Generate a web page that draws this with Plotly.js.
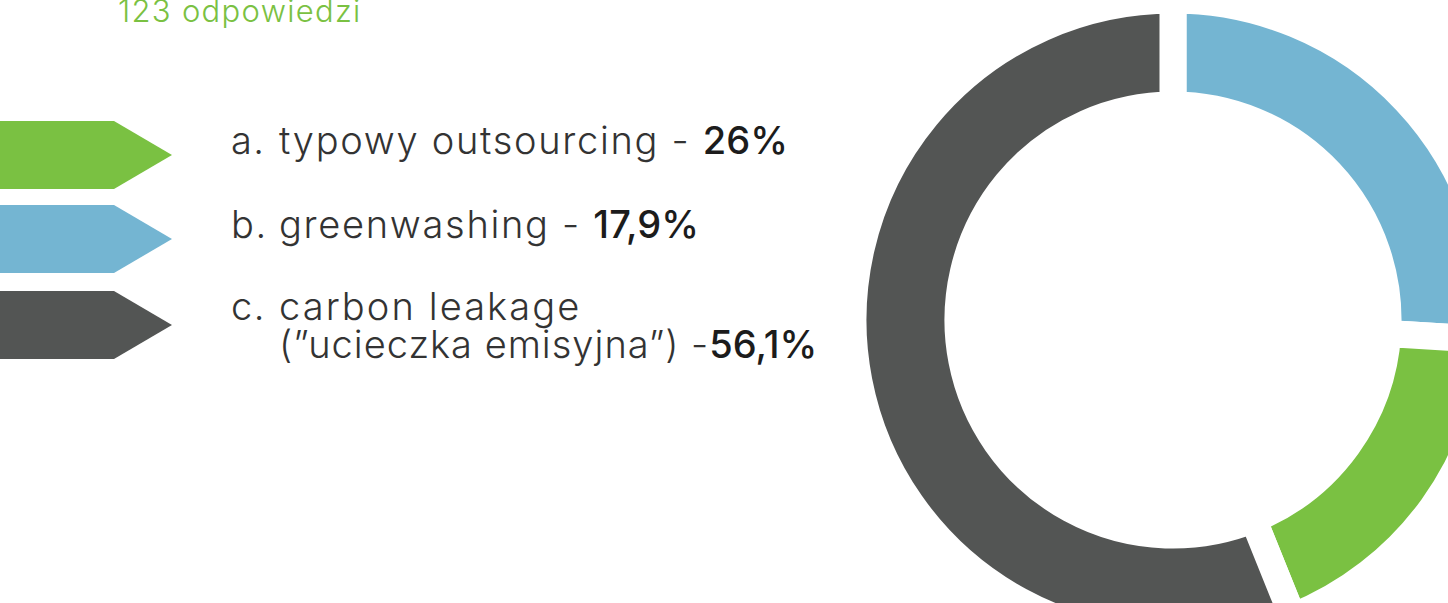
<!DOCTYPE html>
<html>
<head>
<meta charset="utf-8">
<script src="https://cdn.plot.ly/plotly-3.0.1.min.js"></script>
<style>
  html, body { margin: 0; padding: 0; overflow: hidden; background: #ffffff; width: 1448px; height: 603px; }
  #chart { position: absolute; left: 0; top: 0; width: 1500px; height: 640px; }
</style>
</head>
<body>
<div id="chart"></div>
<script>
// ---- data ----
const subtitle = '123 odpowiedzi';
const letters = ['a.', 'b.', 'c.'];
const categories = ['typowy outsourcing', 'greenwashing', 'carbon leakage'];
const categoryExtra = ['', '', '(”ucieczka emisyjna”)'];
const values = [26, 17.9, 56.1];
const valueLabels = ['26%', '17,9%', '56,1%'];
// colours as they appear in the picture
const sliceColors = ['#74B5D2', '#7AC142', '#535554'];
const legendColors = ['#7AC142', '#74B5D2', '#535554'];

// ---- layout helpers ----
const W = 1500, H = 640;
const px = x => x / W;
const py = y => 1 - y / H;
const FONT = 'Inter, Lato, sans-serif';
const textColor = '#333333';

const cx = 1173, cy = 322, R = 322;
const pie = {
  type: 'pie',
  labels: categories,
  values: values,
  sort: false,
  direction: 'clockwise',
  rotation: 0,
  hole: 0.672,
  textinfo: 'none',
  hoverinfo: 'none',
  marker: { colors: sliceColors, line: { color: '#ffffff', width: 27 } },
  domain: { x: [px(cx - R), px(cx + R)], y: [py(cy + R), py(cy - R)] },
  showlegend: false
};

const annotations = [];
const shapes = [];
const size = 38;
function addText(x, baseline, text, opts) {
  opts = opts || {};
  const s = opts.size || size;
  annotations.push({
    xref: 'paper', yref: 'paper',
    x: px(x), y: py(baseline + 0.24 * s + 1),
    xanchor: 'left', yanchor: 'bottom',
    text: text, showarrow: false, align: 'left',
    font: { family: FONT, size: s, color: opts.color || textColor, weight: opts.weight || 300 }
  });
}
const spaced = (t, ls) => '<span style="letter-spacing:' + ls + 'px">' + t + '</span>';
const bold = t => '<span style="font-weight:500;fill:#1c1c1c">' + t + '</span>';

addText(116, 23, spaced(subtitle, 1.3), { size: 31, color: '#7AC142', weight: 300 });

const rowTop = [121, 205, 291];
const arrowH = 68;
const baselines = [155, 239, 321];
for (let i = 0; i < categories.length; i++) {
  const t = rowTop[i], b = t + arrowH, m = (t + b) / 2;
  shapes.push({
    type: 'path', xref: 'paper', yref: 'paper',
    path: `M ${px(0)} ${py(t)} L ${px(114)} ${py(t)} L ${px(172)} ${py(m)} L ${px(114)} ${py(b)} L ${px(0)} ${py(b)} Z`,
    fillcolor: legendColors[i], line: { width: 0 }
  });
  addText(229, baselines[i], spaced(letters[i], 1.5));
  if (categoryExtra[i]) {
    addText(277, baselines[i], spaced(categories[i], 2.1));
    addText(277, baselines[i] + 38, spaced(categoryExtra[i] + ' -', 1.0) + bold(valueLabels[i]));
  } else {
    addText(277, baselines[i], spaced(categories[i] + ' - ', 1.7) + bold(valueLabels[i]));
  }
}

const layout = {
  width: W, height: H,
  margin: { l: 0, r: 0, t: 0, b: 0, pad: 0 },
  paper_bgcolor: '#ffffff', plot_bgcolor: '#ffffff',
  showlegend: false,
  annotations: annotations,
  shapes: shapes
};

Plotly.newPlot('chart', [pie], layout, { staticPlot: true, displayModeBar: false });
</script>
</body>
</html>
